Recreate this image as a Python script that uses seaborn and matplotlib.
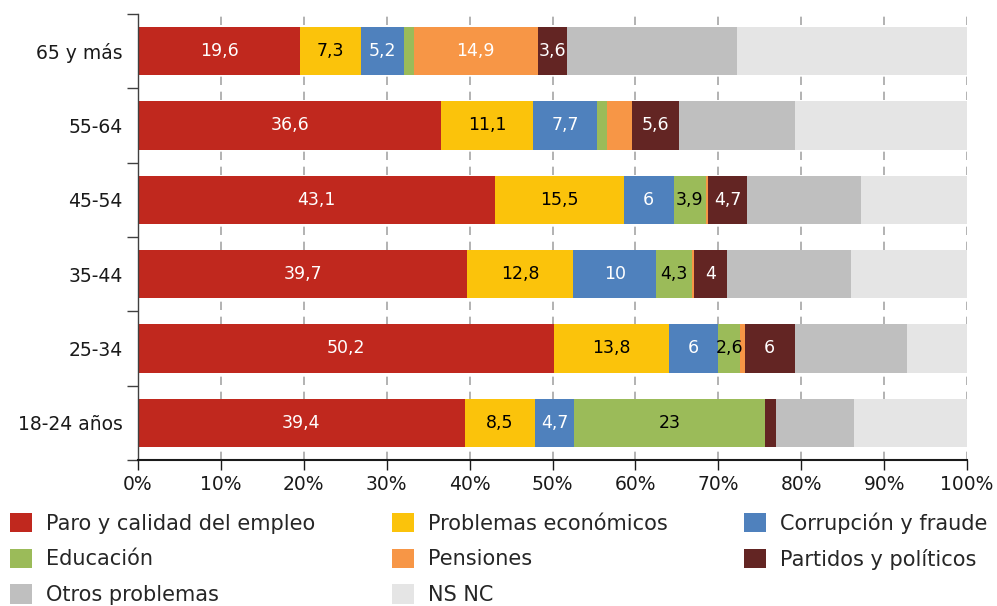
import numpy as np
import pandas as pd
import matplotlib
matplotlib.use("Agg")
import matplotlib.pyplot as plt
import seaborn as sns
from matplotlib.patches import Patch

# =========================
# DATOS
# =========================
grupos = ["65 y más", "55-64", "45-54", "35-44", "25-34", "18-24 años"]

problemas = ["Paro y calidad del empleo", "Problemas económicos", "Corrupción y fraude",
             "Educación", "Pensiones", "Partidos y políticos", "Otros problemas", "NS NC"]

paro = [19.6, 36.6, 43.1, 39.7, 50.2, 39.4]
economicos = [7.3, 11.1, 15.5, 12.8, 13.8, 8.5]
corrupcion = [5.2, 7.7, 6, 10, 6, 4.7]
educacion = [1.2, 1.2, 3.9, 4.3, 2.6, 23]
pensiones = [14.9, 3.0, 0.3, 0.3, 0.6, 0.0]
partidos = [3.6, 5.6, 4.7, 4, 6, 1.4]
otros = [20.4, 14.1, 13.7, 14.9, 13.6, 9.3]
nsnc = [27.8, 20.7, 12.8, 14.0, 7.2, 13.7]

colores = ["#C0281E", "#FBC30B", "#4F81BD", "#9BBB59", "#F79646", "#632523", "#BFBFBF", "#E5E5E5"]
color_texto = ["white", "black", "white", "black", "white", "white", None, None]
minimo_etiqueta = [2.5, 2.5, 2.5, 2.5, 10, 2.5, None, None]

series = [paro, economicos, corrupcion, educacion, pensiones, partidos, otros, nsnc]

# =========================
# TABLA LARGA (acumulado)
# =========================
filas = []
for i, grupo in enumerate(grupos):
    acum = 0
    for nombre, valores in zip(problemas, series):
        v = valores[i]
        filas.append({"grupo": grupo, "problema": nombre, "valor": v,
                      "inicio": acum, "acumulado": acum + v})
        acum += v
df = pd.DataFrame(filas)

# =========================
# ESTILO
# =========================
sns.set_style("white")
plt.rcParams["font.family"] = ["DejaVu Sans"]

fig = plt.figure(figsize=(9.97, 6.06), dpi=100)
ax = fig.add_axes([0.1384, 0.241, 0.8316, 0.736])

# barras superpuestas: de mayor a menor acumulado
sns.barplot(
    data=df, x="acumulado", y="grupo", hue="problema",
    hue_order=problemas[::-1], order=grupos,
    palette=dict(zip(problemas, colores)),
    dodge=False, saturation=1, width=0.65, orient="h",
    legend=False, linewidth=0, ax=ax
)

# etiquetas de valores
pos = {g: k for k, g in enumerate(grupos)}
for j, nombre in enumerate(problemas):
    if color_texto[j] is None:
        continue
    sub = df[df["problema"] == nombre]
    for _, r in sub.iterrows():
        if r["valor"] < minimo_etiqueta[j]:
            continue
        txt = f"{r['valor']:g}".replace(".", ",")
        ax.text(r["inicio"] + r["valor"] / 2, pos[r["grupo"]], txt,
                ha="center", va="center", color=color_texto[j], fontsize=12.5)

# =========================
# EJES
# =========================
ax.set_xlim(0, 100)
ax.set_ylim(len(grupos) - 0.5, -0.5)
ax.set_xticks(np.arange(0, 101, 10))
ax.set_xticklabels([f"{t}%" for t in range(0, 101, 10)], fontsize=13.5)
ax.set_yticks(range(len(grupos)))
ax.set_yticklabels(grupos, fontsize=13.5)
ax.set_yticks(np.arange(-0.5, len(grupos), 1), minor=True)
ax.set_xlabel("")
ax.set_ylabel("")

ax.tick_params(axis="y", which="major", length=0, pad=11, colors="#1a1a1a")
ax.tick_params(axis="y", which="minor", length=8, width=1, color="#404040", left=True)
ax.tick_params(axis="x", which="major", length=7, width=1, color="#1a1a1a", bottom=True,
               pad=4, colors="#1a1a1a")

ax.xaxis.grid(True, linestyle=(0, (5, 4)), color="#a6a6a6", linewidth=1.2)
ax.set_axisbelow(True)

for s in ["top", "right"]:
    ax.spines[s].set_visible(False)
ax.spines["left"].set_color("#404040")
ax.spines["left"].set_linewidth(1)
ax.spines["bottom"].set_color("#1a1a1a")
ax.spines["bottom"].set_linewidth(1.5)

# =========================
# LEYENDA (orden por filas)
# =========================
orden = [0, 3, 6, 1, 4, 7, 2, 5]
handles = [Patch(facecolor=colores[k], edgecolor="none", label=problemas[k]) for k in orden]
fig.legend(
    handles=handles, ncol=3, loc="upper left",
    bbox_to_anchor=(0.01, 0.155), frameon=False,
    fontsize=15, handlelength=1.05, handleheight=1.05,
    handletextpad=0.7, columnspacing=3.65, labelspacing=0.72,
    borderaxespad=0, borderpad=0
)

plt.savefig("out.png", dpi=100)
plt.close()
